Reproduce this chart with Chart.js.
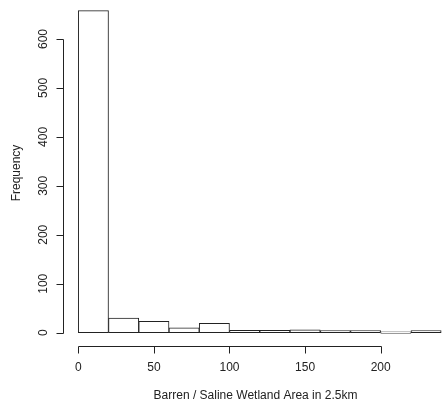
<!DOCTYPE html>
<html lang="en">
<head>
  <meta charset="UTF-8">
  <title>Barren / Saline Wetland Area histogram</title>
  <script src="https://cdn.jsdelivr.net/npm/chart.js"></script>
  <style>
    html, body { margin: 0; padding: 0; background: #fff; }
    #wrap { width: 448px; height: 409px; }
  </style>
</head>
<body>
  <div id="wrap"><canvas id="hist"></canvas></div>

  <script>
    // histogram bins (width 20) and counts
    const binStarts = [0, 20, 40, 60, 80, 100, 120, 140, 160, 180, 200, 220];
    const counts = [658, 30, 23, 10, 19, 5, 5, 6, 1, 1, 0, 1];
    const binWidth = 20;

    const xTicks = [0, 50, 100, 150, 200];
    const yTicks = [0, 100, 200, 300, 400, 500, 600];

    const font = "'Liberation Sans', Arial, sans-serif";
    const ink = '#222';

    // R style axes: detached lines with outward ticks
    const rAxes = {
      id: 'rAxes',
      afterDraw(chart) {
        const { ctx, scales: { x, y }, chartArea } = chart;
        ctx.save();
        ctx.strokeStyle = ink;
        ctx.fillStyle = ink;
        ctx.lineWidth = 1;
        ctx.font = '12px ' + font;

        // x axis
        const ay = chartArea.bottom + 0.5;
        ctx.beginPath();
        ctx.moveTo(Math.round(x.getPixelForValue(xTicks[0])) + 0.5, ay);
        ctx.lineTo(Math.round(x.getPixelForValue(xTicks[xTicks.length - 1])) + 0.5, ay);
        xTicks.forEach(v => {
          const px = Math.round(x.getPixelForValue(v)) + 0.5;
          ctx.moveTo(px, ay);
          ctx.lineTo(px, ay + 7);
        });
        ctx.stroke();
        ctx.textAlign = 'center';
        ctx.textBaseline = 'middle';
        xTicks.forEach(v => ctx.fillText(String(v), x.getPixelForValue(v), ay + 21));

        // y axis
        const ax = chartArea.left + 0.5;
        ctx.beginPath();
        ctx.moveTo(ax, Math.round(y.getPixelForValue(yTicks[0])) + 0.5);
        ctx.lineTo(ax, Math.round(y.getPixelForValue(yTicks[yTicks.length - 1])) + 0.5);
        yTicks.forEach(v => {
          const py = Math.round(y.getPixelForValue(v)) + 0.5;
          ctx.moveTo(ax, py);
          ctx.lineTo(ax - 7, py);
        });
        ctx.stroke();
        yTicks.forEach(v => {
          ctx.save();
          ctx.translate(ax - 20, y.getPixelForValue(v));
          ctx.rotate(-Math.PI / 2);
          ctx.fillText(String(v), 0, 0);
          ctx.restore();
        });
        ctx.restore();
      }
    };

    const ctx = document.getElementById('hist').getContext('2d');
    new Chart(ctx, {
      type: 'bar',
      data: {
        datasets: [{
          data: binStarts.map((s, i) => ({ x: s + binWidth / 2, y: counts[i] })),
          backgroundColor: '#fff',
          borderColor: c => (c.raw && c.raw.y === 0 ? '#999' : ink),
          borderWidth: 1,
          borderSkipped: false,
          minBarLength: 2,
          barPercentage: 1,
          categoryPercentage: 1
        }]
      },
      options: {
        responsive: true,
        maintainAspectRatio: false,
        animation: false,
        layout: { padding: 0 },
        plugins: {
          legend: { display: false },
          tooltip: { enabled: false }
        },
        scales: {
          x: {
            type: 'linear',
            offset: false,
            min: -10.1,
            max: 244.5,
            grid: { display: false },
            border: { display: false },
            ticks: { display: false },
            title: {
              display: true,
              text: 'Barren / Saline Wetland Area in 2.5km',
              color: ink,
              font: { family: font, size: 12 },
              padding: { top: 0, bottom: 6 }
            },
            afterFit: s => { s.height = 63; }
          },
          y: {
            min: -27.2,
            max: 679.6,
            grid: { display: false },
            border: { display: false },
            ticks: { display: false },
            title: {
              display: true,
              text: 'Frequency',
              color: ink,
              font: { family: font, size: 12 },
              padding: { top: 9, bottom: 0 }
            },
            afterFit: s => { s.width = 63; }
          }
        }
      },
      plugins: [rAxes]
    });
  </script>
</body>
</html>
